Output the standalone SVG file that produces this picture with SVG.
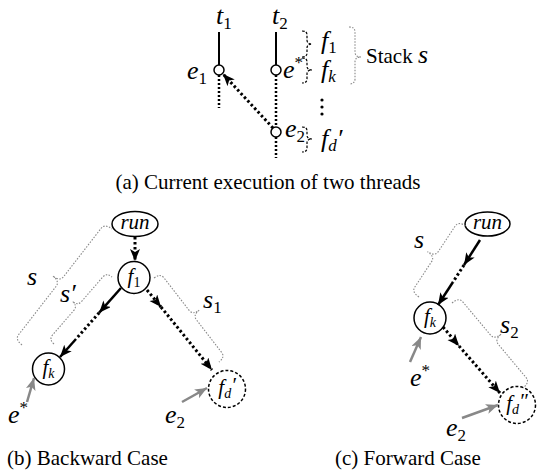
<svg xmlns="http://www.w3.org/2000/svg" width="537" height="472" viewBox="0 0 537 472">
  <defs>
    <style>
      .m{font-family:"Liberation Serif","Times New Roman",serif;font-style:italic;font-size:26px;fill:#000}
      .sub{font-size:17px}
      .up{font-style:normal}
      .cap{font-family:"Liberation Serif","Times New Roman",serif;font-size:21px;fill:#000}
      .nt{font-family:"Liberation Serif","Times New Roman",serif;font-style:italic;font-size:21px;fill:#000}
      .node{fill:#fff;stroke:#000;stroke-width:1.5}
      .dnode{fill:#fff;stroke:#000;stroke-width:1.5;stroke-dasharray:3 2}
      .thread{stroke:#000;stroke-width:2;fill:none}
      .threadDot{stroke:#000;stroke-width:2.5;stroke-dasharray:2 2;fill:none}
      .ev{fill:#fff;stroke:#000;stroke-width:1.5}
      .solid{stroke:#000;stroke-width:2.5;fill:none}
      .dots{stroke:#000;stroke-width:3;stroke-dasharray:2.5 2.5;fill:none}
      .brace{fill:none;stroke:#888;stroke-width:1.1;stroke-dasharray:1.5 1.5}
      .dbrace{fill:none;stroke:#000;stroke-width:1.2;stroke-dasharray:2.5 1.5}
      .gray{stroke:#888;stroke-width:2.5;fill:none}
    </style>
    <marker id="ah" markerUnits="userSpaceOnUse" markerWidth="14" markerHeight="12" refX="12" refY="5" orient="auto">
      <path d="M0,0 L12,5 L0,10 L3,5 z" fill="#000"/>
    </marker>
    <marker id="ahg" markerUnits="userSpaceOnUse" markerWidth="14" markerHeight="12" refX="12" refY="5" orient="auto">
      <path d="M0,0 L12,5 L0,10 L3,5 z" fill="#888"/>
    </marker>
  </defs>

  <!-- (a) two threads -->
  <g id="thread-t1">
    <text class="m" x="216" y="24">t<tspan class="sub up" dy="5">1</tspan></text>
    <line class="thread" x1="219" y1="32" x2="219" y2="65"/>
    <line class="threadDot" x1="219" y1="75" x2="219" y2="108"/>
    <circle class="ev" cx="219" cy="70" r="5"/>
    <text class="m" x="187" y="79">e<tspan class="sub up" dy="5">1</tspan></text>
  </g>
  <g id="thread-t2">
    <text class="m" x="272" y="24">t<tspan class="sub up" dy="5">2</tspan></text>
    <line class="thread" x1="276" y1="32" x2="276" y2="65"/>
    <line class="threadDot" x1="276" y1="75" x2="276" y2="127"/>
    <line class="threadDot" x1="276" y1="137" x2="276" y2="158"/>
    <circle class="ev" cx="276" cy="70" r="5"/>
    <circle class="ev" cx="276" cy="132" r="5"/>
    <text class="m" x="283" y="78">e<tspan class="sub up" dy="-10">*</tspan></text>
    <text class="m" x="285" y="137">e<tspan class="sub up" dy="5">2</tspan></text>
  </g>
  <g id="stack">
    <path class="dbrace" d="M302,31 Q307,31 307,35 L307,40 Q307,44 312,44 Q307,44 307,48 L307,53 Q307,57 302,57"/>
    <path class="dbrace" d="M302,58 Q307,58 307,62 L307,66 Q307,70 312,70 Q307,70 307,74 L307,79 Q307,83 302,83"/>
    <path class="dbrace" d="M302,127 Q307,127 307,131 L307,135 Q307,139 312,139 Q307,139 307,143 L307,148 Q307,152 302,152"/>
    <text class="m" x="321" y="49" font-size="25">f<tspan class="sub up" dy="4">1</tspan></text>
    <text class="m" x="321" y="78" font-size="25">f<tspan class="sub" dy="4">k</tspan></text>
    <circle cx="322" cy="100" r="1.6"/>
    <circle cx="322" cy="107" r="1.6"/>
    <circle cx="322" cy="114" r="1.6"/>
    <text class="m" x="321" y="147" font-size="25">f<tspan class="sub" dy="4">d</tspan><tspan dy="-4">′</tspan></text>
    <path class="brace" d="M349,27 Q355,27 355,32 L355,52 Q355,57 361,57 Q355,57 355,62 L355,79 Q355,84 349,84"/>
    <text class="cap" x="366" y="63" font-size="23">Stack <tspan class="m">s</tspan></text>
  </g>
  <g id="connectors-a">
    <line class="dots" x1="273" y1="128" x2="223" y2="74" marker-end="url(#ah)"/>
  </g>
  <text class="cap" x="268" y="189" text-anchor="middle">(a) Current execution of two threads</text>

  <!-- (b) backward case -->
  <g id="b-run">
    <ellipse class="node" cx="135" cy="224" rx="23" ry="12.5"/>
    <text class="nt" x="135" y="229" text-anchor="middle" font-size="18">run</text>
  </g>
  <g id="b-f1">
    <circle class="node" cx="134" cy="277.5" r="16"/>
    <text class="nt" x="134" y="283" text-anchor="middle">f<tspan font-size="14" font-style="normal" dy="4">1</tspan></text>
  </g>
  <g id="b-fk">
    <circle class="node" cx="48.5" cy="369" r="16"/>
    <text class="nt" x="48.5" y="374" text-anchor="middle">f<tspan font-size="14" dy="4">k</tspan></text>
  </g>
  <g id="b-fd">
    <circle class="dnode" cx="227" cy="389" r="18.5"/>
    <text class="nt" x="227" y="394" text-anchor="middle">f<tspan font-size="14" dy="4">d</tspan><tspan dy="-6">′</tspan></text>
  </g>
  <g id="b-braces">
    <path class="brace" transform="translate(22,345) rotate(-52.2)" d="M0,0 Q0,-9 6,-9 L67.4,-9 Q73.4,-9 73.4,-18 Q73.4,-9 79.4,-9 L140.8,-9 Q146.8,-9 146.8,0"/>
    <path class="brace" transform="translate(54,344) rotate(-49.1)" d="M0,0 Q0,-7 6,-7 L38.3,-7 Q44.3,-7 44.3,-14 Q44.3,-7 50.3,-7 L82.6,-7 Q88.6,-7 88.6,0"/>
    <path class="brace" transform="translate(154,278) rotate(52.3)" d="M0,0 Q0,-8 6,-8 L47.1,-8 Q53.1,-8 53.1,-16 Q53.1,-8 59.1,-8 L100.2,-8 Q106.2,-8 106.2,0"/>
    <text class="m" x="27" y="285">s</text>
    <text class="m" x="60" y="302">s′</text>
    <text class="m" x="203" y="308">s<tspan class="sub up" dy="5">1</tspan></text>
  </g>
  <g id="connectors-b">
    <line class="dots" x1="135" y1="237" x2="135" y2="261" marker-end="url(#ah)"/>
    <line class="solid" x1="121" y1="288" x2="99.2" y2="312.7" marker-end="url(#ah)"/>
    <line class="dots" x1="99.2" y1="312.7" x2="76" y2="339"/>
    <line class="solid" x1="76" y1="339" x2="60" y2="357" marker-end="url(#ah)"/>
    <line class="dots" x1="147" y1="290" x2="161" y2="307" marker-end="url(#ah)"/>
    <line class="dots" x1="161" y1="307" x2="212" y2="370" marker-end="url(#ah)"/>
    <line class="gray" x1="27" y1="402" x2="34" y2="378" marker-end="url(#ahg)"/>
    <line class="gray" x1="182" y1="402" x2="207" y2="388" marker-end="url(#ahg)"/>
  </g>
  <text class="m" x="8" y="423">e<tspan class="sub up" dy="-10">*</tspan></text>
  <text class="m" x="165" y="423">e<tspan class="sub up" dy="5">2</tspan></text>
  <text class="cap" x="7" y="465" font-size="20">(b) Backward Case</text>

  <!-- (c) forward case -->
  <g id="c-run">
    <ellipse class="node" cx="487.5" cy="224" rx="22.5" ry="12"/>
    <text class="nt" x="487.5" y="229" text-anchor="middle" font-size="18">run</text>
  </g>
  <g id="c-fk">
    <circle class="node" cx="430" cy="318" r="16"/>
    <text class="nt" x="430" y="323" text-anchor="middle">f<tspan font-size="14" dy="4">k</tspan></text>
  </g>
  <g id="c-fd">
    <circle class="dnode" cx="517" cy="405" r="18.5"/>
    <text class="nt" x="517" y="410" text-anchor="middle">f<tspan font-size="14" dy="4">d</tspan><tspan dy="-6">″</tspan></text>
  </g>
  <g id="c-braces">
    <path class="brace" transform="translate(419,297) rotate(-56.5)" d="M0,0 Q0,-9 6,-9 L36.5,-9 Q42.5,-9 42.5,-18 Q42.5,-9 48.5,-9 L79.1,-9 Q85.1,-9 85.1,0"/>
    <path class="brace" transform="translate(452,303) rotate(50.1)" d="M0,0 Q0,-9 6,-9 L49.4,-9 Q55.4,-9 55.4,-18 Q55.4,-9 61.4,-9 L104.8,-9 Q110.8,-9 110.8,0"/>
    <text class="m" x="414" y="248">s</text>
    <text class="m" x="500" y="333">s<tspan class="sub up" dy="5">2</tspan></text>
  </g>
  <g id="connectors-c">
    <line class="solid" x1="480" y1="240" x2="464" y2="265" marker-end="url(#ah)"/>
    <line class="dots" x1="464" y1="265" x2="453" y2="282"/>
    <line class="solid" x1="453" y1="282" x2="438" y2="305" marker-end="url(#ah)"/>
    <line class="dots" x1="443" y1="327" x2="459" y2="346" marker-end="url(#ah)"/>
    <line class="dots" x1="459" y1="346" x2="500" y2="393" marker-end="url(#ah)"/>
    <line class="gray" x1="410" y1="362" x2="421" y2="337" marker-end="url(#ahg)"/>
    <line class="gray" x1="462" y1="418" x2="498" y2="405" marker-end="url(#ahg)"/>
  </g>
  <text class="m" x="410" y="386">e<tspan class="sub up" dy="-10">*</tspan></text>
  <text class="m" x="446" y="436">e<tspan class="sub up" dy="5">2</tspan></text>
  <text class="cap" x="335" y="465">(c) Forward Case</text>
</svg>
